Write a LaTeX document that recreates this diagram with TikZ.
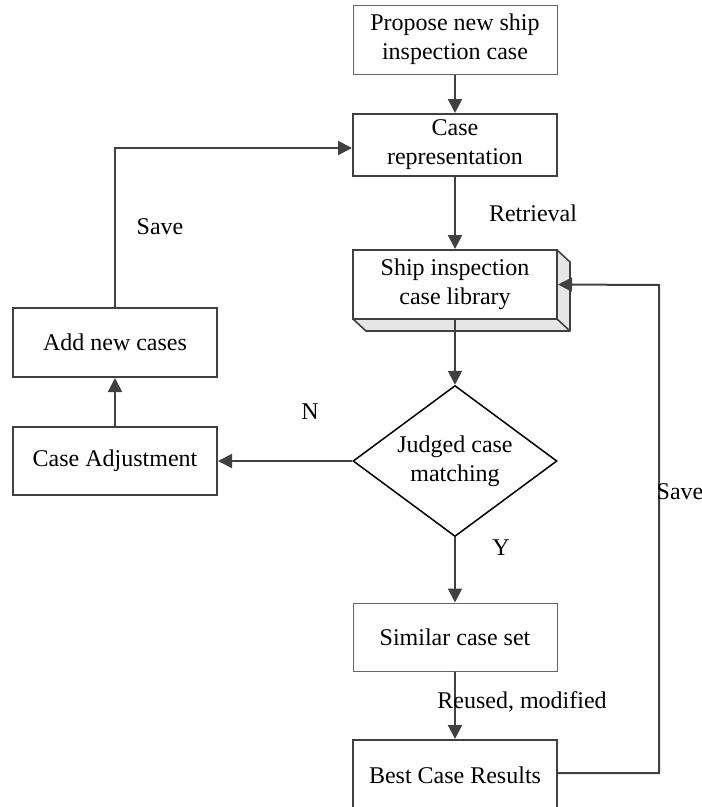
\documentclass[tikz,border=0pt]{standalone}
\usepackage{fontspec}
\setmainfont{Liberation Serif}
\usetikzlibrary{arrows.meta,shapes.geometric}
\definecolor{linegray}{HTML}{404040}
\definecolor{facegray}{HTML}{E6E6E6}
\begin{document}
\begin{tikzpicture}[x=1pt,y=-1pt,
  font=\fontsize{24}{29}\selectfont,
  thinbox/.style={draw=linegray!80,line width=1pt,fill=white,minimum width=204pt,inner sep=0pt,align=center},
  boldbox/.style={draw=linegray,line width=2pt,fill=white,minimum width=204pt,inner sep=0pt,align=center},
  arr/.style={draw=linegray,line width=2pt,-{Triangle[length=14pt,width=14pt]}},
  conn/.style={draw=linegray,line width=2pt},
  lbl/.style={inner sep=0pt}]
\useasboundingbox (0,0) rectangle (702,807);

% main column
\node[thinbox,minimum height=69pt] (propose) at (455,39.5) {Propose new ship\\inspection case};
\node[boldbox,minimum height=62pt] (caserep) at (455,145) {Case\\representation};

% case library drawn as a raised block
\fill[facegray] (557,250) -- (570,262) -- (570,331) -- (366,331) -- (353,319) -- (557,319) -- cycle;
\draw[conn,line width=1.6pt,line join=round] (557,250) -- (570,262) -- (570,331) -- (366,331) -- (353,319);
\draw[conn,line width=1.6pt] (557,319) -- (570,331);
\node[boldbox,minimum height=69pt] (lib) at (455,284.5) {Ship inspection\\case library};

\node[draw=black,line width=1.5pt,diamond,aspect=1.351,minimum width=204pt,minimum height=151pt,inner sep=0pt,align=center] (judge) at (455,461) {Judged case\\matching};
\node[thinbox,minimum height=68pt] (similar) at (455,637) {Similar case set};
\node[boldbox,minimum height=70pt] (best) at (455,775) {Best Case Results};

% left column
\node[boldbox,minimum height=68pt] (adjust) at (115,461) {Case Adjustment};
\node[boldbox,minimum height=69pt] (addnew) at (115,342.5) {Add new cases};

% connectors
\draw[arr] (propose) -- (caserep);
\draw[arr] (caserep) -- (lib);
\draw[arr] (lib.south) -- (judge.north);
\draw[arr] (judge.west) -- (adjust.east);
\draw[arr] (adjust) -- (addnew);
\draw[arr] (judge.south) -- (similar.north);
\draw[arr] (similar) -- (best);

\coordinate (lc) at (115,148);
\draw[arr] (addnew.north) -- (lc) -- (caserep.west |- lc);
\coordinate (rc) at (659,285);
\draw[arr] (best.east |- 0,773) -| (rc) -- (lib.east);

% labels
\node[lbl] (retr) at (533,213) {Retrieval};
\node[lbl] (saveL) at (160,227) {Save};
\node[lbl] (nlab) at (310,412) {N};
\node[lbl] (ylab) at (501,548) {Y};
\node[lbl] (reuse) at (522,702) {Reused, modified};
\node[lbl] (saveR) at (680,492) {Save};
\end{tikzpicture}
\end{document}
